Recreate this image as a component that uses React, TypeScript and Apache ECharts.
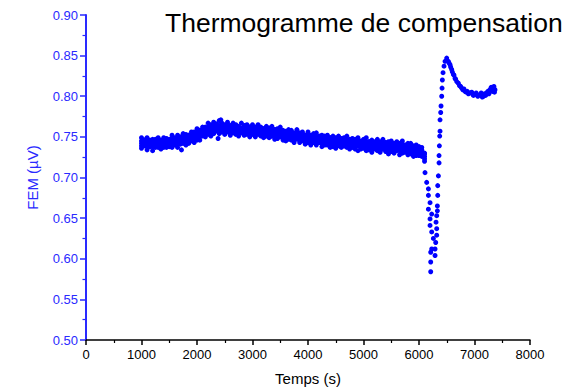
import React, { useEffect, useRef } from "react";
import * as echarts from "echarts";

const TITLE = "Thermogramme de compensation";
const X_NAME = "Temps (s)";
const Y_NAME = "FEM (µV)";

// Slow drift band, sampled every 50 s (five readings across the noisy band)
const bandTimes = [
  1000, 1050, 1100, 1150, 1200, 1250, 1300, 1350, 1400, 1450,
  1500, 1550, 1600, 1650, 1700, 1750, 1800, 1850, 1900, 1950,
  2000, 2050, 2100, 2150, 2200, 2250, 2300, 2350, 2400, 2450,
  2500, 2550, 2600, 2650, 2700, 2750, 2800, 2850, 2900, 2950,
  3000, 3050, 3100, 3150, 3200, 3250, 3300, 3350, 3400, 3450,
  3500, 3550, 3600, 3650, 3700, 3750, 3800, 3850, 3900, 3950,
  4000, 4050, 4100, 4150, 4200, 4250, 4300, 4350, 4400, 4450,
  4500, 4550, 4600, 4650, 4700, 4750, 4800, 4850, 4900, 4950,
  5000, 5050, 5100, 5150, 5200, 5250, 5300, 5350, 5400, 5450,
  5500, 5550, 5600, 5650, 5700, 5750, 5800, 5850, 5900, 5950,
  6000, 6050, 6100,
];
const bandUpper = [
  0.749, 0.746, 0.749, 0.745, 0.747, 0.747, 0.749, 0.746, 0.749, 0.748,
  0.747, 0.752, 0.749, 0.752, 0.749, 0.754, 0.753, 0.752, 0.756, 0.756,
  0.76, 0.758, 0.762, 0.762, 0.767, 0.765, 0.768, 0.766, 0.77, 0.767,
  0.765, 0.768, 0.764, 0.767, 0.765, 0.762, 0.767, 0.764, 0.765, 0.762,
  0.765, 0.762, 0.765, 0.762, 0.76, 0.763, 0.761, 0.763, 0.759, 0.76,
  0.762, 0.758, 0.756, 0.759, 0.758, 0.755, 0.759, 0.755, 0.756, 0.752,
  0.756, 0.752, 0.754, 0.755, 0.75, 0.752, 0.751, 0.752, 0.749, 0.751,
  0.749, 0.751, 0.747, 0.749, 0.751, 0.747, 0.748, 0.747, 0.749, 0.745,
  0.747, 0.749, 0.744, 0.746, 0.743, 0.747, 0.744, 0.747, 0.743, 0.744,
  0.745, 0.742, 0.744, 0.742, 0.745, 0.74, 0.742, 0.742, 0.738, 0.74,
  0.738, 0.737, 0.73,
];
const bandUpperMid = [
  0.745, 0.746, 0.744, 0.746, 0.744, 0.746, 0.744, 0.745, 0.746, 0.746,
  0.746, 0.748, 0.747, 0.748, 0.75, 0.749, 0.75, 0.752, 0.752, 0.754,
  0.755, 0.758, 0.758, 0.76, 0.762, 0.763, 0.763, 0.765, 0.764, 0.765,
  0.763, 0.765, 0.762, 0.764, 0.762, 0.763, 0.761, 0.763, 0.761, 0.762,
  0.761, 0.76, 0.761, 0.76, 0.76, 0.759, 0.76, 0.758, 0.759, 0.757,
  0.758, 0.756, 0.757, 0.755, 0.756, 0.754, 0.755, 0.753, 0.754, 0.752,
  0.753, 0.751, 0.752, 0.75, 0.751, 0.749, 0.75, 0.748, 0.749, 0.748,
  0.748, 0.747, 0.748, 0.746, 0.747, 0.746, 0.746, 0.745, 0.746, 0.744,
  0.745, 0.744, 0.744, 0.743, 0.744, 0.743, 0.743, 0.742, 0.743, 0.741,
  0.742, 0.741, 0.742, 0.74, 0.741, 0.739, 0.74, 0.738, 0.739, 0.737,
  0.736, 0.734, 0.729,
];
const bandMiddle = [
  0.742, 0.743, 0.741, 0.742, 0.741, 0.743, 0.741, 0.742, 0.743, 0.743,
  0.743, 0.744, 0.744, 0.745, 0.746, 0.746, 0.747, 0.748, 0.749, 0.751,
  0.752, 0.754, 0.755, 0.757, 0.758, 0.76, 0.759, 0.762, 0.761, 0.761,
  0.76, 0.761, 0.759, 0.76, 0.759, 0.759, 0.758, 0.759, 0.758, 0.758,
  0.758, 0.757, 0.757, 0.757, 0.756, 0.756, 0.756, 0.755, 0.755, 0.754,
  0.754, 0.753, 0.753, 0.752, 0.752, 0.751, 0.751, 0.75, 0.75, 0.749,
  0.749, 0.748, 0.748, 0.747, 0.747, 0.746, 0.746, 0.745, 0.745, 0.745,
  0.744, 0.744, 0.744, 0.743, 0.743, 0.743, 0.742, 0.742, 0.742, 0.741,
  0.741, 0.741, 0.74, 0.74, 0.74, 0.74, 0.739, 0.739, 0.739, 0.738,
  0.738, 0.738, 0.738, 0.737, 0.737, 0.736, 0.736, 0.735, 0.735, 0.734,
  0.733, 0.731, 0.726,
];
const bandLowerMid = [
  0.739, 0.739, 0.738, 0.738, 0.738, 0.739, 0.738, 0.738, 0.74, 0.739,
  0.74, 0.74, 0.741, 0.741, 0.743, 0.742, 0.744, 0.744, 0.746, 0.747,
  0.749, 0.75, 0.752, 0.753, 0.755, 0.756, 0.756, 0.758, 0.758, 0.757,
  0.757, 0.757, 0.756, 0.756, 0.756, 0.755, 0.755, 0.755, 0.755, 0.754,
  0.755, 0.753, 0.754, 0.753, 0.753, 0.752, 0.753, 0.751, 0.752, 0.75,
  0.751, 0.749, 0.75, 0.748, 0.749, 0.747, 0.748, 0.746, 0.747, 0.745,
  0.746, 0.744, 0.745, 0.743, 0.744, 0.742, 0.743, 0.741, 0.742, 0.741,
  0.741, 0.74, 0.741, 0.739, 0.74, 0.739, 0.739, 0.738, 0.739, 0.737,
  0.738, 0.737, 0.737, 0.736, 0.737, 0.736, 0.736, 0.735, 0.736, 0.734,
  0.735, 0.734, 0.735, 0.733, 0.734, 0.732, 0.733, 0.731, 0.732, 0.73,
  0.73, 0.727, 0.723,
];
const bandLower = [
  0.736, 0.739, 0.734, 0.738, 0.733, 0.737, 0.737, 0.735, 0.737, 0.737,
  0.738, 0.737, 0.74, 0.737, 0.741, 0.743, 0.74, 0.742, 0.745, 0.743,
  0.746, 0.746, 0.751, 0.75, 0.753, 0.751, 0.754, 0.757, 0.754, 0.756,
  0.753, 0.756, 0.752, 0.755, 0.753, 0.751, 0.755, 0.752, 0.753, 0.75,
  0.753, 0.75, 0.753, 0.751, 0.749, 0.751, 0.749, 0.751, 0.747, 0.748,
  0.75, 0.746, 0.745, 0.747, 0.746, 0.743, 0.747, 0.743, 0.745, 0.741,
  0.743, 0.74, 0.743, 0.74, 0.743, 0.738, 0.74, 0.74, 0.737, 0.738,
  0.736, 0.739, 0.737, 0.739, 0.737, 0.735, 0.737, 0.735, 0.733, 0.735,
  0.736, 0.733, 0.734, 0.731, 0.735, 0.733, 0.731, 0.735, 0.732, 0.729,
  0.732, 0.73, 0.733, 0.728, 0.73, 0.731, 0.728, 0.729, 0.726, 0.727,
  0.727, 0.726, 0.72,
];

// Isolated outliers in the band
const outlierTimes = [2380, 2430, 1720];
const outlierValues = [0.748, 0.771, 0.734];

// Fast transient: dip, rise, overshoot and settling
const transientTimes = [
  6108, 6138, 6169, 6169, 6199, 6169, 6229, 6199, 6199, 6229,
  6259, 6229, 6211, 6211, 6211,
  6289, 6289, 6301, 6319, 6319, 6307, 6319, 6331, 6331, 6337,
  6337, 6349, 6361, 6361, 6367, 6373, 6379, 6379, 6391, 6397,
  6409, 6415, 6421, 6433, 6451, 6469, 6499, 6529, 6559, 6589,
  6619, 6649, 6709, 6769, 6829, 6919, 7009, 7099, 7159, 7219,
  7279, 7339, 7369,
  6540, 6570, 6600, 6630, 6660, 6680, 6730, 6750, 6790, 6810,
  6850, 6870, 6890, 6950, 6980, 7030, 7060, 7120, 7140, 7180,
  7200, 7240, 7260, 7300, 7320, 7350, 7360,
];
const transientValues = [
  0.706, 0.694, 0.686, 0.678, 0.669, 0.661, 0.655, 0.649, 0.641, 0.633,
  0.625, 0.612, 0.608, 0.596, 0.584,
  0.604, 0.612, 0.62, 0.629, 0.637, 0.645, 0.653, 0.659, 0.665, 0.678,
  0.69, 0.702, 0.718, 0.727, 0.739, 0.751, 0.757, 0.771, 0.78, 0.788,
  0.8, 0.81, 0.82, 0.829, 0.837, 0.843, 0.847, 0.843, 0.839, 0.833,
  0.827, 0.822, 0.816, 0.81, 0.806, 0.804, 0.802, 0.802, 0.8, 0.804,
  0.808, 0.81, 0.808,
  0.841, 0.836, 0.83, 0.826, 0.821, 0.818, 0.813, 0.812, 0.808, 0.809,
  0.805, 0.806, 0.803, 0.805, 0.801, 0.804, 0.8, 0.804, 0.799, 0.803,
  0.801, 0.806, 0.803, 0.811, 0.806, 0.812, 0.805,
];

const X_TICKS = [0, 1000, 2000, 3000, 4000, 5000, 6000, 7000, 8000];
const Y_TICKS = [0.5, 0.55, 0.6, 0.65, 0.7, 0.75, 0.8, 0.85, 0.9];

const BLUE_AXIS = "#2a2aff";
const POINT = "#0000ff";
const FONT = "'Liberation Sans', Arial, sans-serif";

export default function App() {
  const ref = useRef<HTMLDivElement>(null);

  useEffect(() => {
    document.body.style.margin = "0";
    if (!ref.current) return;
    const chart = echarts.init(ref.current, null, { renderer: "svg" });

    const points: number[][] = [];
    bandTimes.forEach((t, i) => {
      points.push([t, bandUpper[i]]);
      points.push([t, bandUpperMid[i]]);
      points.push([t, bandMiddle[i]]);
      points.push([t, bandLowerMid[i]]);
      points.push([t, bandLower[i]]);
    });
    outlierTimes.forEach((t, i) => points.push([t, outlierValues[i]]));
    transientTimes.forEach((t, i) => points.push([t, transientValues[i]]));

    chart.setOption({
      animation: false,
      backgroundColor: "#ffffff",
      title: {
        text: TITLE,
        left: 160,
        top: 4,
        textStyle: {
          fontFamily: FONT,
          fontWeight: "normal",
          fontSize: 26.5,
          color: "#000",
        },
      },
      grid: { left: 86, right: 38, top: 15, bottom: 49 },
      xAxis: {
        type: "value",
        min: X_TICKS[0],
        max: X_TICKS[X_TICKS.length - 1],
        interval: 1000,
        name: X_NAME,
        nameLocation: "middle",
        nameGap: 31,
        nameTextStyle: { fontFamily: FONT, fontSize: 15, color: "#000" },
        axisLine: { show: true, lineStyle: { color: "#000", width: 1.5 } },
        axisTick: { show: true, length: 5, lineStyle: { color: "#000", width: 1.5 } },
        minorTick: { show: true, splitNumber: 2, length: 3, lineStyle: { color: "#000", width: 1.2 } },
        axisLabel: {
          fontFamily: FONT,
          fontSize: 13,
          color: "#000",
          margin: 8,
          formatter: (v: number) => String(v),
        },
        splitLine: { show: false },
      },
      yAxis: {
        type: "value",
        min: Y_TICKS[0],
        max: Y_TICKS[Y_TICKS.length - 1],
        interval: 0.05,
        name: Y_NAME,
        nameLocation: "middle",
        nameGap: 46,
        nameTextStyle: { fontFamily: FONT, fontSize: 15, color: BLUE_AXIS },
        axisLine: { show: true, lineStyle: { color: BLUE_AXIS, width: 2 } },
        axisTick: { show: true, length: 6, lineStyle: { color: BLUE_AXIS, width: 1.5 } },
        minorTick: { show: true, splitNumber: 2, length: 3.5, lineStyle: { color: BLUE_AXIS, width: 1.2 } },
        axisLabel: {
          fontFamily: FONT,
          fontSize: 13,
          color: BLUE_AXIS,
          margin: 8,
          formatter: (v: number) => v.toFixed(2),
        },
        splitLine: { show: false },
      },
      series: [
        {
          type: "scatter",
          data: points,
          symbol: "circle",
          symbolSize: 5,
          itemStyle: { color: POINT, opacity: 1 },
          emphasis: { disabled: true },
        },
      ],
    });

    return () => chart.dispose();
  }, []);

  return <div ref={ref} style={{ width: 568, height: 391 }} />;
}
